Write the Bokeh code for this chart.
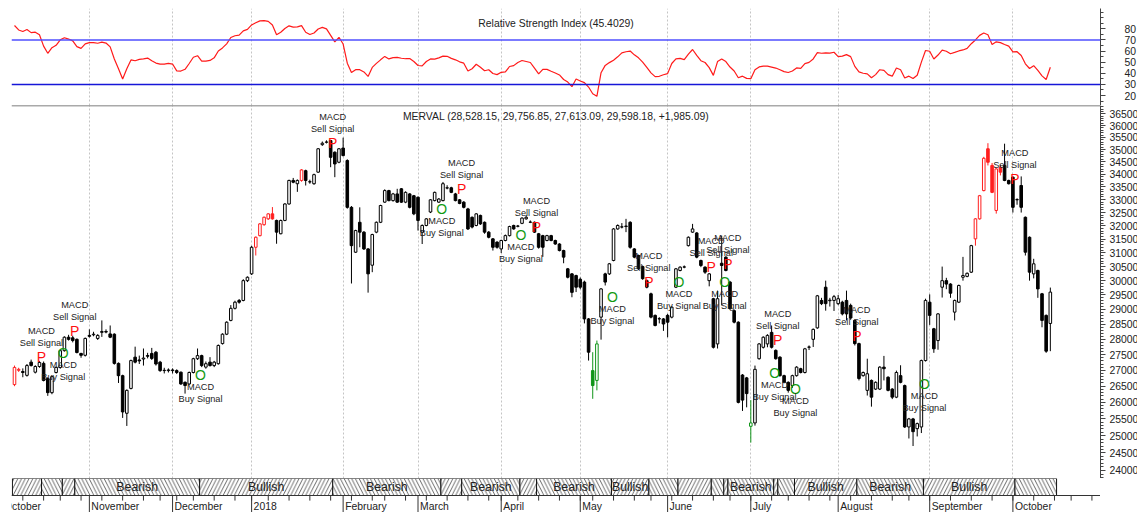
import numpy as np
import pandas as pd
from bokeh.plotting import figure
from bokeh.layouts import column
from bokeh.models import ColumnDataSource, Range1d, FixedTicker, Span, Grid, PrintfTickFormatter
from bokeh.core.properties import value
from bokeh.embed import file_html
from bokeh.resources import INLINE

FONT = "Liberation Sans"
TXT = "#222222"

# ---------------- data ----------------
FIRST_BAR = "2017-10-05"
HOLIDAYS = ["2017-10-16", "2017-11-20", "2017-11-27", "2017-12-08", "2017-12-25",
            "2018-01-01", "2018-02-12", "2018-02-13", "2018-03-29", "2018-03-30",
            "2018-04-02", "2018-04-30", "2018-05-01", "2018-05-25", "2018-06-20",
            "2018-07-09", "2018-08-20", "2018-10-15"]

OPEN = [
    26550, 27000, 26960, 26840, 27260, 26940, 27120, 27220, 26740, 26300,
    26930, 27090, 27630, 28070, 28050, 28000, 27540, 27480, 28130, 28150,
    28030, 28230, 28260, 28180, 28170, 27220, 26830, 25670, 26430, 27420,
    27330, 27360, 27470, 27540, 27580, 27260, 27000, 26990, 27010, 26990,
    26940, 26620, 26570, 26930, 27370, 27470, 27100, 27260, 27150, 27210,
    27860, 28170, 28630, 29040, 29310, 29310, 30000, 30240, 31200, 31630,
    32040, 32260, 32450, 32200, 31700, 32200, 32830, 33750, 33620, 33750,
    34140, 33690, 33620, 34080, 35200, 35300, 35370, 34890, 34480, 35060,
    34550, 32700, 31020, 32130, 31760, 31140, 30550, 31760, 32130, 32900,
    33350, 32960, 33220, 33420, 32900, 33220, 33150, 33090, 31760, 32010,
    32520, 32960, 32900, 32960, 33450, 33460, 33220, 32990, 32900, 32640,
    32320, 32010, 32390, 32130, 31760, 31510, 31390, 31140, 31450, 31630,
    32010, 31980, 32090, 32260, 32130, 32130, 31700, 31630, 31450, 31630,
    31450, 31320, 31080, 30420, 30240, 30180, 30050, 29950, 28680, 26990,
    26680, 28740, 30240, 30240, 30720, 31880, 31950, 31970, 32130, 31140,
    30900, 30500, 30000, 29540, 28800, 28680, 28680, 28800, 28740, 29770,
    30360, 30480, 31260, 31760, 31730, 30720, 30480, 30000, 29370, 27850,
    30620, 30840, 29950, 28960, 28570, 26850, 26760, 25280, 25380, 27370,
    27740, 27850, 28230, 27640, 27420, 26830, 26620, 26520, 26830, 27050,
    26930, 27740, 28000, 28380, 29310, 29770, 29300, 29310, 29200, 29250,
    29310, 29140, 28630, 27860, 26830, 26370, 26680, 26410, 26410, 27100,
    26780, 26410, 26160, 26830, 26520, 25260, 25500, 25210, 25260, 27310,
    29250, 28350, 27960, 29770, 30000, 29880, 28910, 29250, 30120, 30150,
    30300, 31510, 32260, 33350, 35030, 34350, 32580, 34280, 34350, 33750,
    33880, 33000, 33550, 32320, 31570, 30240, 30360, 29540, 28800, 28528.15]

HIGH = [
    27150, 27080, 27060, 27200, 27340, 27160, 27300, 27280, 26780, 26830,
    27120, 27660, 28100, 28150, 28120, 28030, 27560, 28060, 28330, 28250,
    28170, 28630, 28330, 28460, 28200, 27250, 26860, 26400, 27340, 27760,
    27470, 27700, 27560, 27720, 27620, 27300, 27080, 27060, 27060, 27030,
    26960, 26650, 26960, 27400, 27700, 27500, 27280, 27420, 27300, 27830,
    28200, 28600, 29150, 29300, 29360, 30050, 30150, 31250, 31600, 32100,
    32350, 32480, 32710, 32230, 32230, 32860, 33780, 33850, 33790, 34200,
    34180, 33780, 34020, 35060, 35330, 35380, 35400, 34920, 35060, 35490,
    34600, 32750, 31850, 32700, 31800, 31170, 31700, 32160, 32800, 33400,
    33380, 33260, 33420, 33450, 33320, 33250, 33180, 33120, 32050, 32290,
    33020, 33310, 33060, 33690, 33560, 33500, 33260, 33020, 32940, 32680,
    32350, 32480, 32420, 32160, 31800, 31540, 31420, 31480, 31670, 32000,
    32040, 32030, 32320, 32400, 32200, 32160, 31730, 31660, 31660, 31660,
    31480, 31350, 31110, 30450, 30270, 30210, 30110, 30000, 28710, 27580,
    27960, 29740, 30280, 30630, 31910, 32050, 32100, 32260, 32170, 31170,
    30930, 30540, 30040, 29580, 28830, 28740, 28710, 28850, 29110, 30450,
    30510, 30540, 31600, 32070, 31760, 30750, 30510, 30270, 29400, 29650,
    31630, 30870, 29990, 29000, 28600, 26880, 26790, 26070, 27150, 27880,
    28100, 28170, 28460, 27670, 27450, 26860, 26650, 26860, 27130, 27080,
    27720, 27800, 28360, 29500, 29400, 30000, 29400, 29500, 29500, 29300,
    29650, 29200, 28660, 27890, 26960, 27370, 26710, 26650, 27130, 27460,
    26810, 26440, 26990, 27160, 26550, 25530, 25530, 25390, 27340, 29370,
    29520, 28380, 28880, 30500, 30100, 29910, 29340, 29860, 30850, 30290,
    31290, 32290, 33180, 34700, 35260, 34450, 34240, 34380, 35240, 33780,
    33910, 33050, 33910, 32350, 31600, 30780, 30390, 29570, 28830, 29756.85]

LOW = [
    26500, 26950, 26780, 26800, 27120, 26900, 27080, 26650, 26200, 26250,
    26900, 27050, 27600, 27960, 27900, 27540, 27400, 27440, 28060, 28100,
    27980, 28080, 28200, 28040, 27180, 26600, 25530, 25290, 26400, 27220,
    27200, 27150, 27380, 27330, 27150, 26950, 26900, 26930, 26900, 26880,
    26540, 26270, 26540, 26900, 27330, 27100, 27050, 27120, 27100, 27180,
    27830, 28140, 28600, 29000, 29200, 29280, 29950, 30200, 30900, 31600,
    32000, 32220, 32230, 31330, 31680, 32170, 32800, 33640, 33300, 33700,
    33550, 33620, 33580, 34050, 35150, 35250, 34280, 33880, 34440, 34720,
    32650, 29900, 30990, 31200, 31100, 29580, 30300, 31720, 32100, 32870,
    32930, 32920, 32870, 32870, 32860, 32660, 32400, 31820, 31320, 31980,
    32480, 32930, 32870, 32930, 33400, 33250, 32930, 32820, 32660, 31840,
    31900, 31980, 32030, 31700, 31530, 31080, 31150, 30990, 31420, 31600,
    31850, 31940, 32060, 32230, 32100, 31730, 31150, 30850, 31420, 31420,
    31290, 31050, 30620, 30080, 29420, 29600, 29700, 28530, 27310, 26110,
    26370, 27990, 29830, 30200, 30690, 31850, 31900, 31760, 31150, 30800,
    30380, 30030, 29730, 28700, 28430, 28530, 28280, 28070, 28700, 29740,
    30330, 30440, 31230, 31730, 30800, 30480, 30240, 29800, 27700, 27700,
    29140, 30330, 28990, 28530, 25970, 25740, 25850, 24800, 25300, 27340,
    27700, 27740, 27700, 27340, 26800, 26590, 26300, 26450, 26800, 26900,
    26900, 27650, 27750, 28350, 29150, 28960, 29100, 28950, 29150, 28800,
    28630, 28650, 27800, 26680, 26800, 26210, 25870, 26380, 26380, 26680,
    26340, 26100, 26130, 26590, 25230, 24920, 24700, 24980, 25080, 27280,
    28480, 27560, 27660, 29410, 29700, 29400, 28630, 29220, 30000, 30120,
    30270, 31260, 32230, 33320, 34350, 33250, 32460, 33950, 33720, 33590,
    32500, 32800, 32500, 30900, 30000, 30080, 29400, 28400, 27560, 27613.09]

CLOSE = [
    27090, 27030, 26930, 27150, 27150, 27120, 27250, 26680, 26300, 26800,
    27090, 27630, 28070, 28000, 27960, 27570, 27480, 28030, 28100, 28170,
    28130, 28260, 28240, 28070, 27220, 26830, 25710, 26370, 27310, 27260,
    27300, 27390, 27450, 27380, 27200, 26990, 26990, 27010, 26990, 26930,
    26570, 26520, 26930, 27370, 27470, 27150, 27210, 27150, 27260, 27800,
    28170, 28570, 29040, 29250, 29250, 30000, 30120, 31200, 31570, 32070,
    32320, 32450, 32260, 31760, 32200, 32830, 33750, 33680, 33750, 34170,
    33750, 33700, 33980, 35030, 35260, 35310, 34680, 34410, 35030, 34750,
    32700, 31260, 31820, 31760, 31140, 30240, 31670, 32130, 32770, 33350,
    32960, 33220, 32900, 32900, 33280, 32700, 32450, 32200, 32010, 32260,
    32990, 33280, 33020, 33620, 33460, 33280, 32960, 32850, 32700, 31880,
    31950, 32450, 32070, 31760, 31570, 31200, 31200, 31450, 31630, 31970,
    31880, 31990, 32290, 32320, 32140, 31760, 31200, 31200, 31630, 31450,
    31320, 31080, 30840, 30120, 29590, 29770, 29770, 28680, 27580, 26520,
    27850, 29710, 29950, 30600, 31880, 32010, 31960, 31990, 31200, 30840,
    30420, 30070, 29770, 28740, 28460, 28690, 28510, 28570, 29080, 30420,
    30480, 30490, 31570, 31880, 30840, 30540, 30300, 30240, 27740, 29370,
    30540, 30360, 29030, 28570, 26000, 26070, 26270, 25380, 27030, 27850,
    28070, 28130, 27740, 27370, 26830, 26620, 26370, 26830, 27100, 26930,
    27690, 27750, 28330, 29470, 29200, 29200, 29320, 29440, 29370, 28850,
    28850, 28710, 27860, 26740, 26930, 26890, 26160, 26620, 27100, 27050,
    26370, 26160, 26930, 26620, 25260, 25500, 25120, 25360, 27310, 29310,
    28800, 27690, 28850, 30000, 29880, 29560, 29310, 29830, 30180, 30260,
    31260, 32260, 33150, 34640, 34480, 33280, 34210, 34080, 33750, 33620,
    32700, 32990, 32700, 31020, 30300, 30600, 29710, 28630, 27613.09, 29598.18]

RED_BARS = [0, 1, 58, 59, 60, 61, 62, 69, 231, 232, 233, 234, 235, 236, 237]
GREEN_BARS = [139, 140, 177]

RSI = [
    83.0, 79.0, 77.6, 79.4, 76.6, 77.0, 74.7, 64.4, 58.0, 63.0,
    65.2, 70.1, 72.0, 70.8, 69.2, 64.0, 62.4, 66.4, 67.6, 67.6,
    67.0, 68.0, 67.2, 63.8, 52.8, 44.0, 34.8, 44.1, 52.0, 51.3,
    52.5, 52.9, 53.7, 51.2, 49.2, 48.3, 48.2, 48.9, 48.3, 42.2,
    42.0, 43.6, 48.8, 54.4, 55.8, 51.0, 51.0, 51.6, 53.9, 60.0,
    62.8, 66.5, 72.2, 73.8, 74.4, 78.2, 79.5, 83.5, 85.5, 87.2,
    87.4, 86.7, 83.5, 74.7, 76.9, 80.3, 82.7, 81.5, 81.7, 82.9,
    76.9, 74.9, 76.3, 79.8, 81.3, 80.0, 74.1, 68.2, 72.4, 66.3,
    49.1, 40.6, 43.2, 43.2, 41.2, 37.2, 45.3, 48.9, 52.1, 55.2,
    52.9, 54.1, 54.3, 53.5, 53.1, 53.2, 50.6, 47.0, 46.6, 50.6,
    52.9, 52.7, 53.9, 55.4, 55.3, 53.4, 52.1, 50.3, 49.1, 42.1,
    44.1, 48.1, 45.4, 42.3, 43.2, 39.8, 38.8, 40.9, 41.2, 46.1,
    46.9, 49.7, 51.5, 50.6, 49.7, 44.6, 39.4, 43.5, 43.5, 41.8,
    40.3, 38.5, 34.4, 32.1, 27.9, 34.8, 33.1, 31.6, 27.6, 21.6,
    19.3, 40.5, 47.1, 49.6, 51.8, 54.8, 58.4, 59.4, 60.0, 56.6,
    53.9, 50.1, 45.3, 40.4, 37.0, 37.3, 38.7, 39.7, 48.8, 53.0,
    53.4, 52.3, 57.3, 61.4, 56.1, 51.3, 49.7, 45.1, 38.1, 50.5,
    52.8, 50.5, 45.6, 42.0, 36.0, 37.4, 35.4, 35.1, 43.2, 45.7,
    46.5, 46.5, 45.6, 44.7, 43.2, 41.5, 40.7, 42.0, 44.8, 44.5,
    48.7, 49.8, 52.9, 58.6, 58.0, 58.4, 58.1, 58.9, 55.0, 55.4,
    56.8, 55.0, 46.2, 41.3, 40.0, 39.5, 36.0, 38.8, 43.2, 42.6,
    38.8, 37.4, 44.7, 43.2, 35.7, 37.4, 35.3, 38.2, 50.0, 60.5,
    59.8, 52.9, 56.4, 60.8, 59.8, 57.6, 58.8, 60.1, 61.0, 62.4,
    66.6, 70.0, 74.1, 76.2, 74.7, 65.9, 68.3, 67.6, 65.9, 64.4,
    59.2, 59.4, 56.0, 48.5, 44.3, 46.8, 42.6, 37.7, 34.4, 45.4029]
RSI_UPPER = 70
RSI_LOWER = 30

SELL_IDX = [6, 14, 76, 107, 125, 152, 167, 171, 183, 202, 240]
SELL_PRICE = [27425, 28292, 35270, 33431, 31934, 29935, 30468, 30576, 27962, 28094, 33788]
BUY_IDX = [11, 44, 102, 121, 143, 159, 170, 182, 187, 218]
BUY_PRICE = [27538, 26837, 32637, 31636, 29412, 29935, 29935, 26914, 26413, 26569]

TREND_START = [0, 7, 12, 15, 45, 77, 103, 108, 122, 126, 144, 153, 160, 168, 171,
               172, 183, 184, 188, 203, 219, 241]
TREND_END = 251
TREND = ["Bullish", "Bearish", "Bullish", "Bearish", "Bullish", "Bearish", "Bullish",
         "Bearish", "Bullish", "Bearish", "Bullish", "Bearish", "Bullish", "Bearish",
         "Bullish", "Bearish", "Bullish", "Bearish", "Bullish", "Bearish", "Bullish",
         "Bearish"]
TREND_SHOWN = [0, 0, 0, 1, 1, 1, 0, 1, 0, 1, 1, 0, 0, 0, 0, 1, 0, 0, 1, 1, 1, 0]

RSI_TICKS = [20, 30, 40, 50, 60, 70, 80]
PRICE_TICKS = list(range(24000, 36501, 500))

# ---------------- derived ----------------
n = min(len(OPEN), len(HIGH), len(LOW), len(CLOSE))
idx = np.arange(n)
o = np.array(OPEN[:n], float)
h = np.array(HIGH[:n], float)
l = np.array(LOW[:n], float)
c = np.array(CLOSE[:n], float)
col = np.array(["#000000"] * n, dtype=object)
col[[i for i in RED_BARS if i < n]] = "#ff1f1f"
col[[i for i in GREEN_BARS if i < n]] = "#11951a"
fill = np.where(c >= o, "#ffffff", col)
candles = ColumnDataSource(dict(x=idx, h=h, l=l, top=np.maximum(o, c),
                                bot=np.minimum(o, c), col=col, fill=fill))

cal = pd.bdate_range("2017-10-02", "2018-11-30")
cal = cal[~cal.isin(pd.to_datetime(HOLIDAYS))]
first = int(np.where(cal == pd.Timestamp(FIRST_BAR))[0][0])
pos = np.arange(len(cal)) - first
mon = np.asarray(cal.month)
wk = np.asarray(cal.isocalendar().week)
new_month = np.r_[True, mon[1:] != mon[:-1]]
new_week = np.r_[True, wk[1:] != wk[:-1]]

X_LO, X_HI = -0.72, 261.06
xr = Range1d(X_LO, X_HI)
X_MID = (X_LO + X_HI) / 2

m_pos = pos[new_month]
m_names = ["2018" if d.month == 1 else d.strftime("%B") for d in cal[new_month]]
keep = (m_pos > X_LO - 12) & (m_pos < X_HI)
m_pos = m_pos[keep]
m_names = [nm for nm, k in zip(m_names, keep) if k]
grid_ticks = [int(p) for p in m_pos if p > X_LO]
w_pos = [int(p) for p in pos[new_week] if X_LO < p < X_HI]

FRAME_W = 1089
RSI_LO, RSI_HI = 11.0, 98.3
PRICE_LO, PRICE_HI = 23775, 36858


def base_fig(hgt, yr, top=0, **kw):
    return figure(frame_width=FRAME_W, frame_height=hgt, x_range=xr, y_range=yr,
                  toolbar_location=None, output_backend="svg", min_border=0,
                  min_border_left=11, min_border_top=top, outline_line_color=None, **kw)


def style_axis(ax, ticks, minor, standoff):
    ax.ticker = FixedTicker(ticks=ticks, minor_ticks=minor)
    ax.formatter = PrintfTickFormatter(format="%d")
    ax.major_label_text_font = FONT
    ax.major_label_text_font_size = "10.4px"
    ax.major_label_text_color = TXT
    ax.axis_line_color = "#444444"
    ax.major_tick_line_color = "#444444"
    ax.minor_tick_line_color = "#444444"
    ax.major_tick_out = 5
    ax.major_tick_in = 0
    ax.minor_tick_out = 3
    ax.minor_tick_in = 0
    ax.major_label_standoff = standoff


def month_grid(p):
    p.grid.visible = False
    p.add_layout(Grid(dimension=0, ticker=FixedTicker(ticks=grid_ticks),
                      grid_line_color="#c4c4c4", grid_line_dash="2 2", grid_line_width=1))


# ---------------- RSI panel ----------------
rsi_p = base_fig(97, Range1d(RSI_LO, RSI_HI), top=8, x_axis_location=None,
                 y_axis_location="right")
style_axis(rsi_p.yaxis[0], RSI_TICKS, list(range(15, 96, 5)), 19)
month_grid(rsi_p)
rsi_p.add_layout(Span(location=RSI_UPPER, dimension="width", line_color="#4f4fff", line_width=1.5))
rsi_p.add_layout(Span(location=RSI_LOWER, dimension="width", line_color="#1616d8", line_width=1.5))
rsi_p.line(idx, RSI[:n], line_color="#ff1a1a", line_width=1.2)
rsi_p.text(x=[X_MID], y=[RSI_HI], text=[f"Relative Strength Index ({RSI[n - 1]:.4f})"],
           y_offset=14.5, text_align="center", text_baseline="middle",
           text_font=value(FONT), text_font_size="10.4px", text_color=TXT)

# ---------------- price panel ----------------
price_p = base_fig(373, Range1d(PRICE_LO, PRICE_HI), x_axis_location=None,
                   y_axis_location="right", y_axis_type="log")
style_axis(price_p.yaxis[0], PRICE_TICKS, list(range(23800, 36900, 100)), 4)
month_grid(price_p)
price_p.add_layout(Span(location=PRICE_HI, dimension="width", line_color="#555555", line_width=1.5))
price_p.segment(x0="x", y0="h", x1="x", y1="l", line_color="col", line_width=1, source=candles)
price_p.vbar(x="x", width=0.62, top="top", bottom="bot", fill_color="fill",
             line_color="col", line_width=1, source=candles)

chg = c[n - 1] - c[n - 2]
ttl = (f"MERVAL ({o[n-1]:,.2f}, {h[n-1]:,.2f}, {l[n-1]:,.2f}, {c[n-1]:,.2f}, {chg:+,.2f})")
price_p.text(x=[X_MID], y=[PRICE_HI], text=[ttl], y_offset=10.5, text_align="center",
             text_baseline="middle", text_font=value(FONT), text_font_size="10.4px",
             text_color=TXT)

sell_src = ColumnDataSource(dict(x=SELL_IDX, y=SELL_PRICE))
buy_src = ColumnDataSource(dict(x=BUY_IDX, y=BUY_PRICE))
common = dict(text_align="center", text_baseline="middle", text_font=value(FONT))
price_p.text(x="x", y="y", text=value("P"), source=sell_src, x_offset=2,
             text_color="#ff1010", text_font_size="14px", **common)
price_p.text(x="x", y="y", text=value("Sell Signal"), source=sell_src, x_offset=2, y_offset=-14,
             text_color=TXT, text_font_size="9.2px", **common)
price_p.text(x="x", y="y", text=value("MACD"), source=sell_src, x_offset=2, y_offset=-26,
             text_color=TXT, text_font_size="9.2px", **common)
price_p.text(x="x", y="y", text=value("O"), source=buy_src, x_offset=3,
             text_color="#139a13", text_font_size="14px", **common)
price_p.text(x="x", y="y", text=value("MACD"), source=buy_src, x_offset=3, y_offset=12,
             text_color=TXT, text_font_size="9.2px", **common)
price_p.text(x="x", y="y", text=value("Buy Signal"), source=buy_src, x_offset=3, y_offset=24,
             text_color=TXT, text_font_size="9.2px", **common)

# ---------------- trend band + time axis ----------------
band_p = base_fig(34, Range1d(-1, 1), x_axis_location=None, y_axis_location=None)
band_p.grid.visible = False
ends = TREND_START[1:] + [TREND_END]
left = [s - 0.5 for s in TREND_START]
right = [e - 0.5 for e in ends]
band_src = ColumnDataSource(dict(
    left=left, right=right,
    pattern=["/" if t == "Bullish" else "\\" for t in TREND],
    mid=[(a + b) / 2 for a, b in zip(left, right)],
    label=[t if s else "" for t, s in zip(TREND, TREND_SHOWN)]))
band_p.quad(left="left", right="right", bottom=0, top=1, fill_color="#ffffff",
            line_color="#111111", line_width=1, hatch_pattern="pattern",
            hatch_color="#444444", hatch_scale=7.5, hatch_weight=0.8, source=band_src)
band_p.text(x="mid", y=0.5, text="label", source=band_src, text_align="center",
            text_baseline="middle", text_font=value(FONT), text_font_size="12.3px",
            text_color=TXT)
band_p.add_layout(Span(location=0, dimension="width", line_color="#333333", line_width=1))
band_p.segment(x0=w_pos, y0=0, x1=w_pos, y1=-0.3, line_color="#333333", line_width=1)
band_p.segment(x0=list(m_pos), y0=0, x1=list(m_pos), y1=-1, line_color="#333333", line_width=1)
band_p.text(x=list(m_pos), y=-0.64, text=m_names, x_offset=2, text_align="left",
            text_baseline="middle", text_font=value(FONT), text_font_size="10.4px",
            text_color=TXT)

layout = column(rsi_p, price_p, band_p, spacing=0)
open("out.html", "w").write(file_html(layout, INLINE))
